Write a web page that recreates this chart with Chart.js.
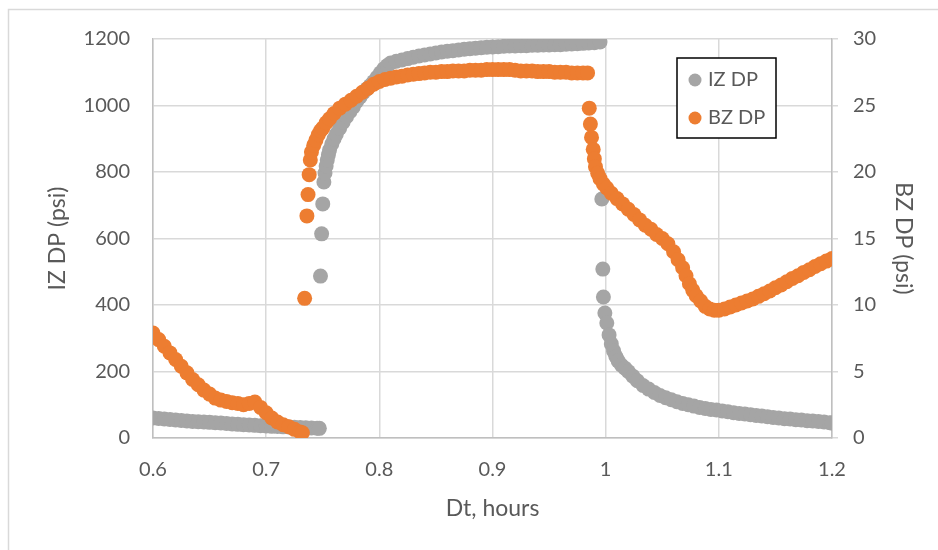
<!DOCTYPE html>
<html>
<head>
<meta charset="utf-8">
<script src="https://cdn.jsdelivr.net/npm/chart.js@4.4.1/dist/chart.umd.min.js"></script>
<style>
  html, body { margin: 0; padding: 0; background: #fff; }
  canvas { display: block; }
</style>
</head>
<body>
<canvas id="dpChart" width="938" height="550"></canvas>
<script>
// IZ DP (psi), left axis
const izTime = [
  0.600, 0.605, 0.610, 0.615, 0.620, 0.625, 0.630, 0.635, 0.640, 0.645,
  0.650, 0.655, 0.660, 0.665, 0.670, 0.675, 0.680, 0.685, 0.690, 0.695,
  0.700, 0.705, 0.710, 0.715, 0.720, 0.725, 0.730, 0.735, 0.740, 0.745, 0.747,
  0.748, 0.749, 0.750, 0.751, 0.752,
  0.753, 0.754, 0.755, 0.756, 0.758, 0.760, 0.762, 0.765, 0.768, 0.771,
  0.774, 0.777, 0.780, 0.783, 0.786, 0.789, 0.792, 0.795, 0.798, 0.801,
  0.804, 0.807, 0.810, 0.815, 0.820, 0.825, 0.830, 0.835, 0.840, 0.845,
  0.850, 0.855, 0.860, 0.865, 0.870, 0.875, 0.880, 0.885, 0.890, 0.895,
  0.900, 0.905, 0.910, 0.915, 0.920, 0.925, 0.930, 0.935, 0.940, 0.945,
  0.950, 0.955, 0.960, 0.965, 0.970, 0.975, 0.980, 0.985, 0.990, 0.995,
  0.9966, 0.9975, 0.998, 0.9993,
  1.001, 1.003, 1.005, 1.007, 1.009, 1.011, 1.014, 1.017, 1.020, 1.024,
  1.028, 1.033, 1.038, 1.043, 1.048, 1.053, 1.058, 1.063, 1.068, 1.073,
  1.078, 1.083, 1.088, 1.093, 1.098, 1.103, 1.108, 1.113, 1.118, 1.123,
  1.128, 1.133, 1.138, 1.143, 1.148, 1.153, 1.158, 1.163, 1.168, 1.173,
  1.178, 1.183, 1.188, 1.193, 1.198, 1.200
];
const izDp = [
  60, 58.5, 57, 55.5, 54, 53, 51.5, 50, 49, 48,
  47, 46, 45, 43.5, 42, 41, 40, 39, 38, 37,
  36, 35, 34.5, 33.5, 33, 32, 31.5, 31, 30, 29.5, 29,
  487, 614, 704, 770, 797,
  818, 836, 852, 866, 884, 900, 914, 932, 950, 966,
  981, 996, 1012, 1026, 1039, 1050, 1060, 1072, 1085, 1098,
  1110, 1120, 1128, 1133, 1137, 1141, 1145, 1149, 1152, 1155,
  1158, 1161, 1163, 1165, 1167, 1169, 1171, 1172, 1174, 1175,
  1176, 1177, 1178, 1179, 1179, 1180, 1180, 1181, 1181, 1182,
  1182, 1183, 1183, 1184, 1185, 1186, 1187, 1188, 1189, 1191,
  719, 508, 424, 376,
  346, 310, 283, 262, 245, 232, 219, 210, 200, 186,
  172, 158, 147, 137, 128, 121, 115, 109, 104, 100,
  96, 92, 89, 86, 84, 81, 79, 76, 74, 72,
  70, 68, 66, 64, 62, 60, 58, 57, 55, 54,
  52, 51, 50, 48, 46, 45
];

// BZ DP (psi), right axis
const bzTime = [
  0.600, 0.605, 0.610, 0.615, 0.620, 0.625, 0.630, 0.635, 0.640, 0.645,
  0.650, 0.655, 0.660, 0.665, 0.670, 0.675, 0.680, 0.685, 0.690, 0.695,
  0.700, 0.705, 0.710, 0.715, 0.720, 0.725, 0.730, 0.732,
  0.734, 0.736, 0.737, 0.738,
  0.739, 0.740, 0.742, 0.744, 0.746, 0.748, 0.750, 0.753, 0.756, 0.760,
  0.765, 0.770, 0.775, 0.780, 0.785, 0.790, 0.795, 0.800, 0.805, 0.810,
  0.815, 0.820, 0.825, 0.830, 0.835, 0.840, 0.845, 0.850, 0.855, 0.860,
  0.865, 0.870, 0.875, 0.880, 0.885, 0.890, 0.895, 0.900, 0.905, 0.910,
  0.915, 0.920, 0.925, 0.930, 0.935, 0.940, 0.945, 0.950, 0.955, 0.960,
  0.965, 0.970, 0.975, 0.980, 0.984,
  0.9855, 0.9865, 0.9875,
  0.989, 0.990, 0.991, 0.993, 0.995, 0.998, 1.001, 1.005, 1.010, 1.015,
  1.020, 1.025, 1.030, 1.035, 1.040, 1.045, 1.050, 1.055, 1.060, 1.064,
  1.068, 1.071, 1.074, 1.077, 1.080, 1.084, 1.088, 1.092, 1.096, 1.100,
  1.105, 1.110, 1.115, 1.120, 1.125, 1.130, 1.135, 1.140, 1.145, 1.150,
  1.155, 1.160, 1.165, 1.170, 1.175, 1.180, 1.185, 1.190, 1.195, 1.200
];
const bzDp = [
  7.9, 7.4, 6.9, 6.4, 5.9, 5.4, 4.9, 4.4, 4.0, 3.6,
  3.3, 3.0, 2.85, 2.75, 2.65, 2.6, 2.5, 2.6, 2.7, 2.3,
  1.9, 1.5, 1.2, 1.0, 0.85, 0.65, 0.45, 0.4,
  10.5, 16.7, 18.3, 19.8,
  20.9, 21.5, 22.0, 22.4, 22.8, 23.1, 23.3, 23.7, 24.0, 24.4,
  24.8, 25.1, 25.4, 25.7, 26.0, 26.3, 26.6, 26.8, 26.95, 27.05,
  27.15, 27.2, 27.3, 27.35, 27.4, 27.45, 27.5, 27.5, 27.55, 27.55,
  27.6, 27.6, 27.6, 27.65, 27.65, 27.65, 27.7, 27.7, 27.7, 27.7,
  27.7, 27.65, 27.6, 27.6, 27.6, 27.55, 27.55, 27.55, 27.5, 27.5,
  27.5, 27.45, 27.45, 27.45, 27.45,
  24.8, 23.6, 22.6,
  21.7, 21.0, 20.4, 19.9, 19.5, 19.1, 18.8, 18.4, 18.0, 17.6,
  17.2, 16.8, 16.4, 16.0, 15.7, 15.3, 15.0, 14.6, 14.0, 13.4,
  12.8, 12.2, 11.6, 11.1, 10.7, 10.3, 9.9, 9.7, 9.6, 9.6,
  9.7, 9.85, 10.0, 10.15, 10.3, 10.45, 10.65, 10.85, 11.05, 11.3,
  11.5, 11.75, 12.0, 12.2, 12.45, 12.65, 12.9, 13.1, 13.3, 13.5
];

const timeTicks = [0.6, 0.7, 0.8, 0.9, 1.0, 1.1, 1.2];

const FONT = 'Lato';
const TEXT = '#595959';
const GRID = '#d9d9d9';
const AXIS = '#bfbfbf';

function toPoints(xs, ys) {
  return xs.map((x, i) => ({ x: x, y: ys[i] }));
}

// white page with the thin outer frame
const frame = {
  id: 'frame',
  beforeDraw(chart) {
    const ctx = chart.ctx;
    ctx.save();
    ctx.fillStyle = '#fff';
    ctx.fillRect(0, 0, chart.width, chart.height);
    ctx.strokeStyle = GRID;
    ctx.lineWidth = 1.5;
    ctx.beginPath();
    ctx.moveTo(8.5, chart.height);
    ctx.lineTo(8.5, 9.5);
    ctx.lineTo(chart.width, 9.5);
    ctx.stroke();
    ctx.restore();
  }
};

// boxed legend inside the plot, top right
const boxLegend = {
  id: 'boxLegend',
  afterDraw(chart) {
    const ctx = chart.ctx;
    const x = chart.chartArea.right - 155, y = chart.chartArea.top + 19;
    const w = 99, h = 80;
    ctx.save();
    ctx.fillStyle = '#fff';
    ctx.fillRect(x, y, w, h);
    ctx.strokeStyle = '#000';
    ctx.lineWidth = 1.5;
    ctx.strokeRect(x, y, w, h);
    ctx.font = '20px ' + FONT;
    ctx.textBaseline = 'middle';
    chart.data.datasets.forEach((ds, i) => {
      const cy = y + 22 + i * 38;
      ctx.fillStyle = ds.backgroundColor;
      ctx.beginPath();
      ctx.arc(x + 18, cy, 6.5, 0, Math.PI * 2);
      ctx.fill();
      ctx.fillStyle = TEXT;
      ctx.fillText(ds.label, x + 31, cy);
    });
    ctx.restore();
  }
};

const tickFont = { family: FONT, size: 20 };
const titleFont = { family: FONT, size: 23 };

new Chart(document.getElementById('dpChart'), {
  type: 'scatter',
  data: {
    datasets: [
      {
        label: 'IZ DP',
        data: toPoints(izTime, izDp),
        yAxisID: 'yIZ',
        backgroundColor: '#a5a5a5',
        borderWidth: 0,
        pointRadius: 7.5,
        order: 1
      },
      {
        label: 'BZ DP',
        data: toPoints(bzTime, bzDp),
        yAxisID: 'yBZ',
        backgroundColor: '#ed7d31',
        borderWidth: 0,
        pointRadius: 7.5,
        order: 0
      }
    ]
  },
  options: {
    responsive: false,
    animation: false,
    layout: { padding: { top: 39, left: 0, right: 0, bottom: 0 } },
    plugins: {
      legend: { display: false },
      tooltip: { enabled: false }
    },
    scales: {
      x: {
        type: 'linear',
        min: 0.6,
        max: 1.2,
        afterBuildTicks: s => { s.ticks = timeTicks.map(v => ({ value: v })); },
        afterFit: s => { s.height = 112; },
        grid: { color: GRID, lineWidth: 1.5, drawTicks: false },
        border: { color: AXIS, width: 1.5 },
        ticks: {
          padding: 20,
          color: TEXT,
          font: tickFont,
          callback: v => String(Number(v.toFixed(1)))
        },
        title: {
          display: true,
          text: 'Dt, hours',
          color: TEXT,
          font: titleFont,
          padding: { top: 0, bottom: 28 }
        }
      },
      yIZ: {
        position: 'left',
        min: 0,
        max: 1200,
        afterFit: s => { s.width = 153; },
        grid: { color: GRID, lineWidth: 1.5, drawTicks: false },
        border: { color: AXIS, width: 1.5 },
        ticks: {
          stepSize: 200,
          padding: 23,
          color: TEXT,
          font: tickFont,
          callback: v => String(v)
        },
        title: {
          display: true,
          text: 'IZ DP (psi)',
          color: TEXT,
          font: titleFont,
          padding: { top: 44, bottom: 0 }
        }
      },
      yBZ: {
        position: 'right',
        min: 0,
        max: 30,
        afterFit: s => { s.width = 106; },
        grid: { color: GRID, lineWidth: 1.5, drawOnChartArea: false, drawTicks: true, tickLength: 6 },
        border: { color: AXIS, width: 1.5 },
        ticks: {
          stepSize: 5,
          padding: 15,
          color: TEXT,
          font: tickFont,
          callback: v => String(v)
        },
        title: {
          display: true,
          text: 'BZ DP (psi)',
          color: TEXT,
          font: titleFont,
          padding: { top: 21, bottom: 0 }
        }
      }
    }
  },
  plugins: [frame, boxLegend]
});
</script>
</body>
</html>
